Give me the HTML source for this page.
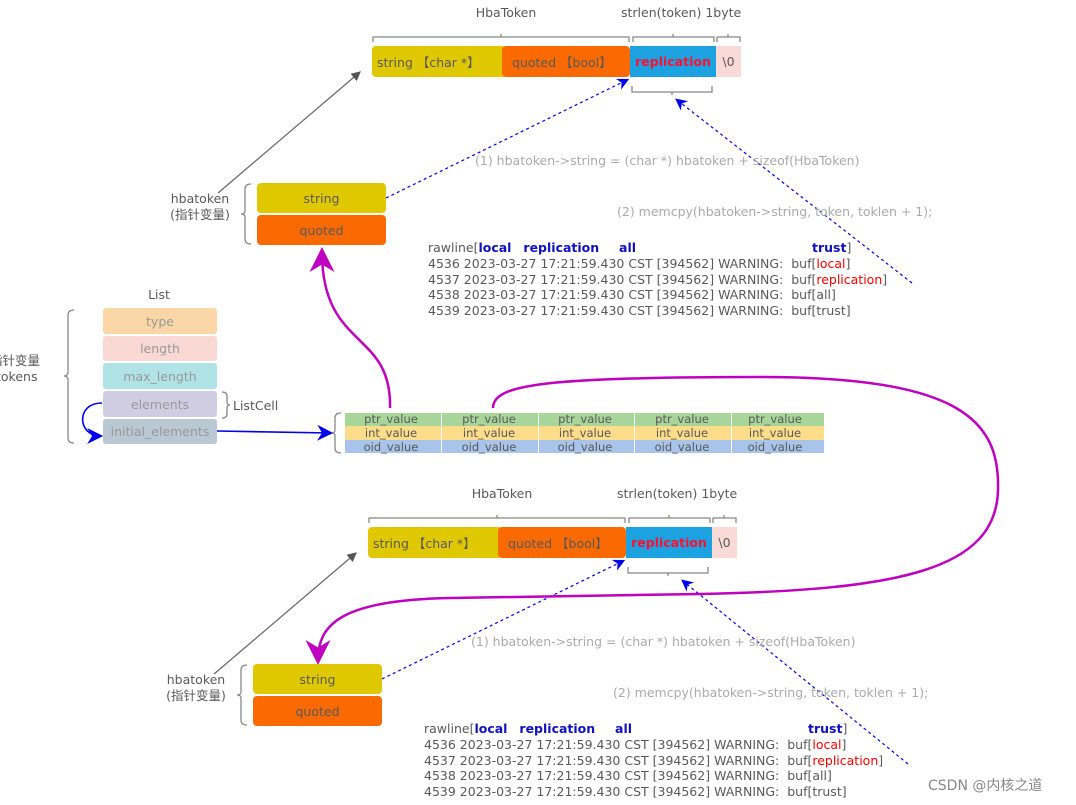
<!DOCTYPE html>
<html><head><meta charset="utf-8"><style>
html,body{margin:0;padding:0;background:#fff;width:1076px;height:805px;overflow:hidden;position:relative;}
.t{position:absolute;white-space:pre;font-family:"DejaVu Sans","Liberation Sans","Noto Sans CJK SC",sans-serif;font-size:12.5px;line-height:15px;color:#595959;}
.c{text-align:center;}
.b{position:absolute;box-sizing:border-box;font-family:"DejaVu Sans","Liberation Sans","Noto Sans CJK SC",sans-serif;font-size:12.5px;color:#595959;display:flex;align-items:center;justify-content:center;white-space:pre;}
.bl{color:#1010c0;font-weight:bold;}
.r{color:#f00;}
.g{color:#aaa;}
svg{position:absolute;left:0;top:0;}
</style></head><body>
<svg width="1076" height="805" viewBox="0 0 1076 805" xmlns="http://www.w3.org/2000/svg">
<defs>
<marker id="ag" markerWidth="8" markerHeight="8" refX="7" refY="4" orient="auto"><path d="M0,0 L8,4 L0,8 Z" fill="#555"/></marker>
<marker id="ab" markerWidth="10" markerHeight="10" refX="8" refY="5" orient="auto"><path d="M0,0 L10,5 L0,10 L3,5 Z" fill="#0000ee"/></marker>
<marker id="am" markerWidth="10" markerHeight="10" refX="8" refY="5" orient="auto"><path d="M0,0 L10,5 L0,10 L3,5 Z" fill="#c000c0"/></marker>
</defs>
<g fill="none" stroke="#888" stroke-width="1.3">
<path d="M373,42 v-5 h128 v-3 v3 h128 v5"/><path d="M633,42 v-5 h40 v-3 v3 h41 v5"/><path d="M717,42 v-5 h11 v-3 v3 h12 v5"/>
<path d="M632,86 v6 h40 v3 v-3 h40 v-6"/>
<path d="M251,184 q-6,0 -6,5 v22 q0,3 -4,3 q4,0 4,3 v22 q0,5 6,5"/>
<path d="M369,523 v-5 h128 v-3 v3 h128 v5"/><path d="M629,523 v-5 h40 v-3 v3 h41 v5"/><path d="M713,523 v-5 h11 v-3 v3 h12 v5"/>
<path d="M628,567 v6 h40 v3 v-3 h40 v-6"/>
<path d="M247,665 q-6,0 -6,5 v22 q0,3 -4,3 q4,0 4,3 v22 q0,5 6,5"/>
<path d="M74,310 q-6,0 -6,5 v57 q0,4 -4,4 q4,0 4,4 v58 q0,5 6,5"/>
<path d="M222,392 q5,0 5,4 v6 q0,3 3,3 q-3,0 -3,3 v6 q0,4 -5,4"/>
<path d="M341,413 q-6,0 -6,5 v12 q0,3 -3,3 q3,0 3,3 v12 q0,5 6,5"/>
</g>
<line x1="218" y1="193" x2="360" y2="72" stroke="#666" stroke-width="1.2" marker-end="url(#ag)"/>
<line x1="214" y1="674" x2="356" y2="553" stroke="#666" stroke-width="1.2" marker-end="url(#ag)"/>
<g stroke="#0000ee" stroke-width="1.2" stroke-dasharray="3,3" fill="none">
<line x1="386" y1="198" x2="627" y2="80" marker-end="url(#ab)"/>
<line x1="912" y1="283" x2="677" y2="100" marker-end="url(#ab)"/>
<line x1="382" y1="679" x2="623" y2="561" marker-end="url(#ab)"/>
<line x1="908" y1="764" x2="683" y2="581" marker-end="url(#ab)"/>
</g>
<path d="M102,403 C75,403 78,436 100,436" fill="none" stroke="#0000ee" stroke-width="1.6" marker-end="url(#ab)"/>
<line x1="217" y1="431" x2="330" y2="433" stroke="#0000ee" stroke-width="1.6" marker-end="url(#ab)"/>
<path d="M390,408 C392,330 322,350 322,252" fill="none" stroke="#c000c0" stroke-width="2.5" marker-end="url(#am)"/>
<path d="M493,408 C493,385 540,377 760,377 C960,377 1000,420 998,490 C996,570 900,590 700,594 L450,598 C340,600 318,625 318,660" fill="none" stroke="#c000c0" stroke-width="2.5" marker-end="url(#am)"/>
</svg>

<!-- top group -->
<div class="t c" style="left:456px;top:5px;width:100px">HbaToken</div>
<div class="t" style="left:621px;top:5px">strlen(token) 1byte</div>
<div class="b" style="left:372px;top:46px;width:134px;height:31px;border-radius:4px;background:#e0c800;justify-content:flex-start;padding-left:5px">string 【char *】</div>
<div class="b" style="left:502px;top:46px;width:128px;height:31px;border-radius:4px;background:#fa6a00;justify-content:flex-start;padding-left:10px">quoted 【bool】</div>
<div class="b" style="left:630px;top:46px;width:86px;height:31px;background:#1ca2e0;color:#ff1030;font-weight:bold">replication</div>
<div class="b" style="left:716px;top:46px;width:25px;height:31px;background:#fadad6">\0</div>
<div class="t c" style="left:150px;top:191px;width:100px">hbatoken</div>
<div class="t c" style="left:150px;top:207px;width:100px">(指针变量)</div>
<div class="b" style="left:257px;top:183px;width:129px;height:30px;border-radius:4px;background:#e0c800">string</div>
<div class="b" style="left:257px;top:215px;width:129px;height:30px;border-radius:4px;background:#fa6a00">quoted</div>
<div class="t g" style="left:475px;top:153px">(1) hbatoken-&gt;string = (char *) hbatoken + sizeof(HbaToken)</div>
<div class="t g" style="left:617px;top:204px">(2) memcpy(hbatoken-&gt;string, token, toklen + 1);</div>
<div class="t" style="left:428px;top:240px">rawline[<span class="bl">local</span>   <span class="bl">replication</span>     <span class="bl">all</span></div>
<div class="t" style="left:812px;top:240px"><span class="bl">trust</span>]</div>
<div class="t" style="left:428px;top:256px">4536 2023-03-27 17:21:59.430 CST [394562] WARNING:  buf[<span class="r">local</span>]</div>
<div class="t" style="left:428px;top:272px">4537 2023-03-27 17:21:59.430 CST [394562] WARNING:  buf[<span class="r">replication</span>]</div>
<div class="t" style="left:428px;top:287px">4538 2023-03-27 17:21:59.430 CST [394562] WARNING:  buf[all]</div>
<div class="t" style="left:428px;top:303px">4539 2023-03-27 17:21:59.430 CST [394562] WARNING:  buf[trust]</div>

<!-- bottom group -->
<div class="t c" style="left:452px;top:486px;width:100px">HbaToken</div>
<div class="t" style="left:617px;top:486px">strlen(token) 1byte</div>
<div class="b" style="left:368px;top:527px;width:134px;height:31px;border-radius:4px;background:#e0c800;justify-content:flex-start;padding-left:5px">string 【char *】</div>
<div class="b" style="left:498px;top:527px;width:128px;height:31px;border-radius:4px;background:#fa6a00;justify-content:flex-start;padding-left:10px">quoted 【bool】</div>
<div class="b" style="left:626px;top:527px;width:86px;height:31px;background:#1ca2e0;color:#ff1030;font-weight:bold">replication</div>
<div class="b" style="left:712px;top:527px;width:25px;height:31px;background:#fadad6">\0</div>
<div class="t c" style="left:146px;top:672px;width:100px">hbatoken</div>
<div class="t c" style="left:146px;top:688px;width:100px">(指针变量)</div>
<div class="b" style="left:253px;top:664px;width:129px;height:30px;border-radius:4px;background:#e0c800">string</div>
<div class="b" style="left:253px;top:696px;width:129px;height:30px;border-radius:4px;background:#fa6a00">quoted</div>
<div class="t g" style="left:471px;top:634px">(1) hbatoken-&gt;string = (char *) hbatoken + sizeof(HbaToken)</div>
<div class="t g" style="left:613px;top:685px">(2) memcpy(hbatoken-&gt;string, token, toklen + 1);</div>
<div class="t" style="left:424px;top:721px">rawline[<span class="bl">local</span>   <span class="bl">replication</span>     <span class="bl">all</span></div>
<div class="t" style="left:808px;top:721px"><span class="bl">trust</span>]</div>
<div class="t" style="left:424px;top:737px">4536 2023-03-27 17:21:59.430 CST [394562] WARNING:  buf[<span class="r">local</span>]</div>
<div class="t" style="left:424px;top:753px">4537 2023-03-27 17:21:59.430 CST [394562] WARNING:  buf[<span class="r">replication</span>]</div>
<div class="t" style="left:424px;top:768px">4538 2023-03-27 17:21:59.430 CST [394562] WARNING:  buf[all]</div>
<div class="t" style="left:424px;top:784px">4539 2023-03-27 17:21:59.430 CST [394562] WARNING:  buf[trust]</div>

<!-- List -->
<div class="t c" style="left:109px;top:287px;width:100px">List</div>
<div class="t" style="left:-10px;top:353px">指针变量</div>
<div class="t" style="left:-4px;top:369px">tokens</div>
<div class="b" style="left:103px;top:308px;width:114px;height:26px;border-radius:3px;background:#fbd7a8;color:#999">type</div>
<div class="b" style="left:103px;top:336px;width:114px;height:25px;border-radius:3px;background:#fad8d4;color:#999">length</div>
<div class="b" style="left:103px;top:363px;width:114px;height:26px;border-radius:3px;background:#b0e3e6;color:#999">max_length</div>
<div class="b" style="left:103px;top:391px;width:114px;height:26px;border-radius:3px;background:#d0cde3;color:#999">elements</div>
<div class="b" style="left:103px;top:419px;width:114px;height:25px;border-radius:3px;background:#bac8d3;color:#999">initial_elements</div>
<div class="t" style="left:233px;top:398px">ListCell</div>

<!-- array -->
<div style="position:absolute;left:345px;top:413px;width:479px;height:13px;background:#a8d59a"></div>
<div style="position:absolute;left:345px;top:426px;width:479px;height:14px;background:#fddc8a"></div>
<div style="position:absolute;left:345px;top:440px;width:479px;height:13px;background:#a8c4ea"></div>
<div style="position:absolute;left:441px;top:413px;width:1px;height:40px;background:#fff"></div>
<div style="position:absolute;left:538px;top:413px;width:1px;height:40px;background:#fff"></div>
<div style="position:absolute;left:634px;top:413px;width:1px;height:40px;background:#fff"></div>
<div style="position:absolute;left:731px;top:413px;width:1px;height:40px;background:#fff"></div>
<div class="t c" style="left:341px;top:412px;width:100px;font-size:11.5px;line-height:14px">ptr_value<br>int_value<br>oid_value</div>
<div class="t c" style="left:439px;top:412px;width:100px;font-size:11.5px;line-height:14px">ptr_value<br>int_value<br>oid_value</div>
<div class="t c" style="left:535px;top:412px;width:100px;font-size:11.5px;line-height:14px">ptr_value<br>int_value<br>oid_value</div>
<div class="t c" style="left:632px;top:412px;width:100px;font-size:11.5px;line-height:14px">ptr_value<br>int_value<br>oid_value</div>
<div class="t c" style="left:725px;top:412px;width:100px;font-size:11.5px;line-height:14px">ptr_value<br>int_value<br>oid_value</div>

<div class="t" style="left:928px;top:779px;font-size:14px;color:#888">CSDN @内核之道</div>
</body></html>
